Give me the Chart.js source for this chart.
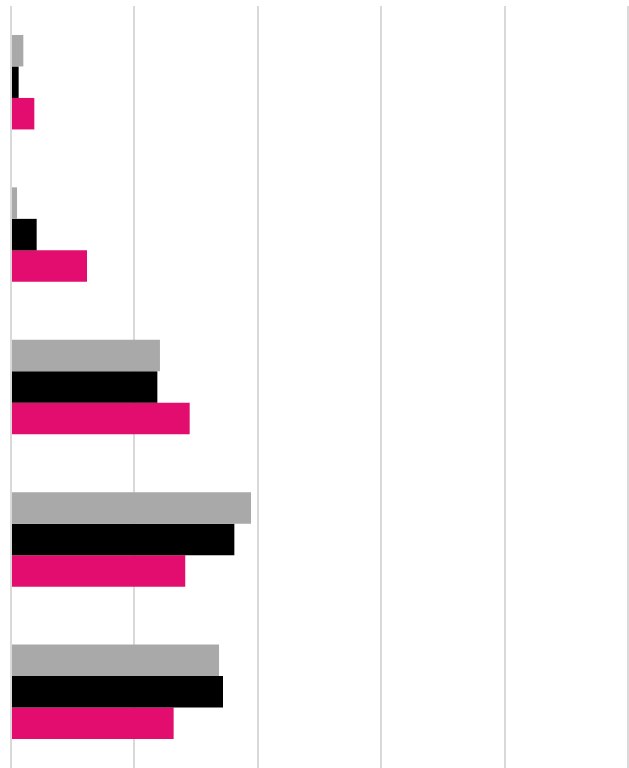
<!DOCTYPE html>
<html>
<head>
<meta charset="utf-8">
<script src="https://cdn.jsdelivr.net/npm/chart.js@4"></script>
<style>
  html, body { margin: 0; padding: 0; background: #fff; overflow: hidden; }
  #wrap { position: relative; width: 629px; height: 768px; }
</style>
</head>
<body>
<div id="wrap"><canvas id="barChart"></canvas></div>
<script>
// Chart data
const categories = ['1', '2', '3', '4', '5'];
const greyValues = [0.10, 0.049, 1.207, 1.945, 1.686];
const blackValues = [0.062, 0.208, 1.186, 1.81, 1.718];
const pinkValues = [0.189, 0.616, 1.448, 1.412, 1.318];
const xTicks = [0, 1, 2, 3, 4, 5];

document.addEventListener('DOMContentLoaded', function() {
  const colors = {
    grey: '#a9a9a9',
    black: '#000000',
    pink: '#e30d6f',
    grid: '#d9d9d9'
  };

  const el = document.getElementById('barChart');
  new Chart(el, {
    type: 'bar',
    data: {
      labels: categories,
      datasets: [
        { label: 'Grey', data: greyValues, backgroundColor: colors.grey },
        { label: 'Black', data: blackValues, backgroundColor: colors.black },
        { label: 'Pink', data: pinkValues, backgroundColor: colors.pink }
      ]
    },
    options: {
      indexAxis: 'y',
      responsive: true,
      maintainAspectRatio: false,
      animation: false,
      layout: {
        padding: { left: 11, right: 1, top: 6, bottom: 0 }
      },
      datasets: {
        bar: {
          categoryPercentage: 0.62,
          barPercentage: 1,
          borderWidth: 0
        }
      },
      plugins: {
        legend: { display: false },
        tooltip: { enabled: false }
      },
      scales: {
        x: {
          min: xTicks[0],
          max: xTicks[xTicks.length - 1],
          afterBuildTicks: function(scale) {
            scale.ticks = xTicks.map(function(v) { return { value: v }; });
          },
          ticks: { display: false },
          border: { display: false },
          grid: {
            color: colors.grid,
            lineWidth: 2,
            drawTicks: false
          }
        },
        y: {
          display: false,
          grid: { display: false }
        }
      }
    }
  });
});
</script>
</body>
</html>
